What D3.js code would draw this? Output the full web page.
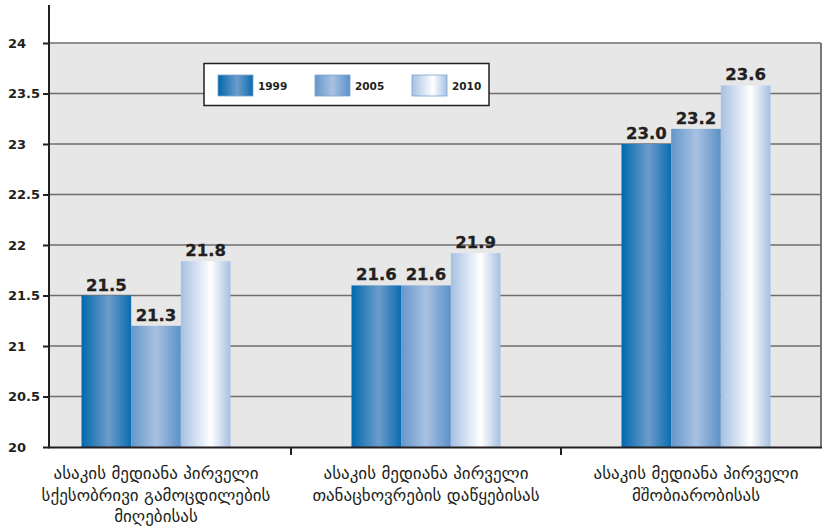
<!DOCTYPE html>
<html>
<head>
<meta charset="utf-8">
<script src="https://cdn.jsdelivr.net/npm/d3@7"></script>
<style>
  html, body { margin: 0; padding: 0; background: #fff; }
  svg { display: block; }
</style>
</head>
<body>
<svg id="chart" width="825" height="528"></svg>
<script>
const categories = [
  ["ასაკის მედიანა პირველი", "სქესობრივი გამოცდილების", "მიღებისას"],
  ["ასაკის მედიანა პირველი", "თანაცხოვრების დაწყებისას"],
  ["ასაკის მედიანა პირველი", "მშობიარობისას"]
];
const seriesNames = ["1999", "2005", "2010"];
const values1999 = [21.5, 21.6, 23.0];
const values2005 = [21.2, 21.6, 23.15];
const values2010 = [21.84, 21.92, 23.58];
const labels1999 = ["21.5", "21.6", "23.0"];
const labels2005 = ["21.3", "21.6", "23.2"];
const labels2010 = ["21.8", "21.9", "23.6"];
const yTicks = [20, 20.5, 21, 21.5, 22, 22.5, 23, 23.5, 24];
const yTickLabels = ["20", "20.5", "21", "21.5", "22", "22.5", "23", "23.5", "24"];

const seriesValues = [values1999, values2005, values2010];
const seriesLabels = [labels1999, labels2005, labels2010];

const svg = d3.select("#chart");
const font = "'DejaVu Sans', Verdana, sans-serif";

const plotLeft = 49, plotRight = 821, plotTop = 43, plotBottom = 447;

const y = d3.scaleLinear().domain([20, 24]).range([plotBottom, plotTop]);
const x0 = d3.scaleBand().domain(d3.range(categories.length)).range([21, 831]).paddingInner(0).paddingOuter(0);
const x1 = d3.scaleBand().domain(seriesNames).range([0, 149]);
const groupOffset = (x0.bandwidth() - 149) / 2;

// gradients
const defs = svg.append("defs");
const gradStops = {
  "1999": [[0, "#0068ad"], [0.55, "#6d9cca"], [1, "#0a6cb0"]],
  "2005": [[0, "#6497ca"], [0.5, "#a9c1e2"], [1, "#5b91c7"]],
  "2010": [[0, "#a6c0e2"], [0.6, "#ffffff"], [1, "#a6c0e2"]]
};
seriesNames.forEach(s => {
  const g = defs.append("linearGradient").attr("id", "g" + s)
    .attr("x1", "0%").attr("x2", "100%").attr("y1", "0%").attr("y2", "0%");
  gradStops[s].forEach(([o, c]) => g.append("stop").attr("offset", o).attr("stop-color", c));
});

// plot background
svg.append("rect").attr("x", plotLeft).attr("y", plotTop)
  .attr("width", plotRight - plotLeft).attr("height", plotBottom - plotTop)
  .attr("fill", "#e6e7e6");

// gridlines
svg.append("g").selectAll("line").data(yTicks.filter(t => t > 20)).join("line")
  .attr("x1", plotLeft).attr("x2", plotRight)
  .attr("y1", d => y(d)).attr("y2", d => y(d))
  .attr("stroke", "#6e6e6e").attr("stroke-width", 1.5);

// right border
svg.append("line").attr("x1", plotRight).attr("x2", plotRight)
  .attr("y1", plotTop).attr("y2", plotBottom)
  .attr("stroke", "#777").attr("stroke-width", 2);

// bars
const groups = svg.append("g").selectAll("g").data(categories).join("g")
  .attr("transform", (d, i) => `translate(${x0(i) + groupOffset},0)`);

groups.each(function(cat, ci) {
  const g = d3.select(this);
  seriesNames.forEach((s, si) => {
    const v = seriesValues[si][ci];
    g.append("rect")
      .attr("x", x1(s)).attr("y", y(v))
      .attr("width", x1.bandwidth()).attr("height", y(20) - y(v))
      .attr("fill", `url(#g${s})`);
    g.append("text")
      .attr("x", x1(s) + x1.bandwidth() / 2).attr("y", y(v) - 5)
      .attr("text-anchor", "middle")
      .attr("font-family", font).attr("font-weight", "bold").attr("font-size", 16.5)
      .attr("fill", "#231f20")
      .attr("stroke", "#231f20").attr("stroke-width", 0.3)
      .text(seriesLabels[si][ci]);
  });
});

// y axis
const yAxis = d3.axisLeft(y).tickValues(yTicks).tickSize(6).tickFormat((d, i) => yTickLabels[i]);
const yg = svg.append("g").attr("transform", `translate(${plotLeft},0)`).call(yAxis);
yg.select(".domain").remove();
yg.selectAll(".tick line").attr("stroke", "#231f20").attr("stroke-width", 2);
yg.selectAll(".tick text")
  .attr("x", 8 - plotLeft).attr("text-anchor", "start")
  .attr("font-family", font).attr("font-weight", "bold").attr("font-size", 13)
  .attr("fill", "#231f20");
svg.append("line").attr("x1", plotLeft).attr("x2", plotLeft)
  .attr("y1", 5).attr("y2", plotBottom + 1)
  .attr("stroke", "#231f20").attr("stroke-width", 2);

// x axis line and separators
svg.append("line").attr("x1", plotLeft - 1).attr("x2", plotRight + 1)
  .attr("y1", plotBottom + 0.5).attr("y2", plotBottom + 0.5)
  .attr("stroke", "#231f20").attr("stroke-width", 2.2);
svg.append("g").selectAll("line").data(d3.range(1, categories.length)).join("line")
  .attr("x1", d => x0(d)).attr("x2", d => x0(d))
  .attr("y1", plotBottom).attr("y2", plotBottom + 8)
  .attr("stroke", "#231f20").attr("stroke-width", 2);

// category labels
const catG = svg.append("g").selectAll("text").data(categories).join("text")
  .attr("text-anchor", "middle")
  .attr("font-family", font).attr("font-size", 17).attr("fill", "#231f20");
catG.each(function(lines, i) {
  const t = d3.select(this);
  lines.forEach((ln, li) => {
    t.append("tspan").attr("x", x0(i) + x0.bandwidth() / 2)
      .attr("y", 479 + li * 21.5).text(ln);
  });
});

// legend
const legend = svg.append("g");
legend.append("rect").attr("x", 204).attr("y", 63.5).attr("width", 285).attr("height", 42)
  .attr("fill", "#fff").attr("stroke", "#231f20").attr("stroke-width", 1.5);
const legX = [218, 315, 412];
seriesNames.forEach((s, i) => {
  legend.append("rect").attr("x", legX[i]).attr("y", 75).attr("width", 35).attr("height", 21)
    .attr("fill", `url(#g${s})`).attr("stroke", "#7aa3d0").attr("stroke-width", 0.8);
  legend.append("text").attr("x", legX[i] + 40).attr("y", 89.5)
    .attr("font-family", font).attr("font-weight", "bold").attr("font-size", 10.5)
    .attr("fill", "#231f20").text(s);
});
</script>
</body>
</html>
